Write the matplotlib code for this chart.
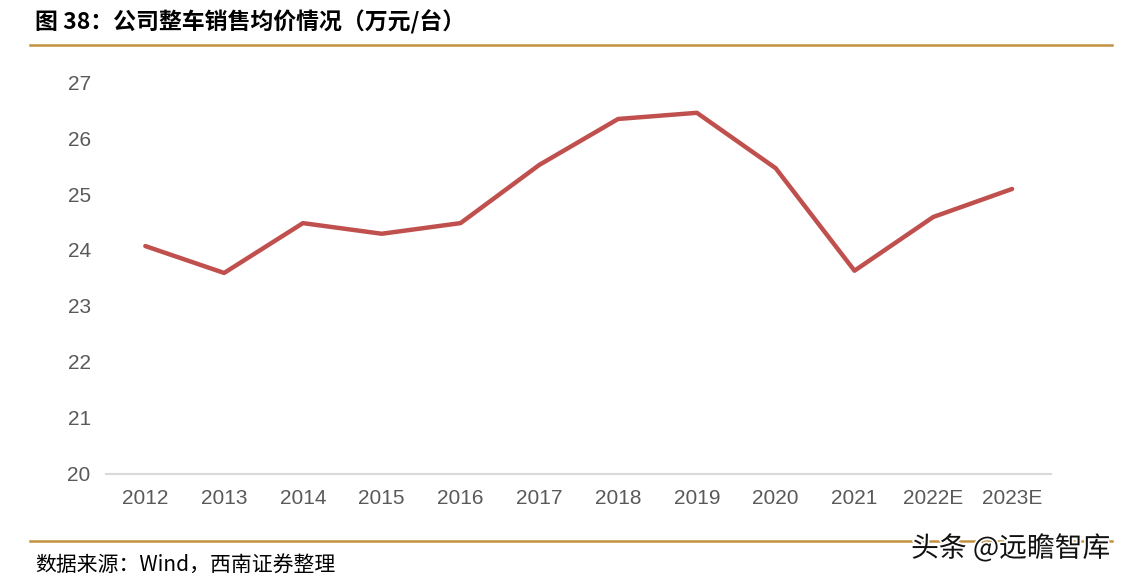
import matplotlib
matplotlib.use('Agg')
import matplotlib.pyplot as plt
import matplotlib.patheffects as pe
from matplotlib.lines import Line2D

plt.rcParams['font.family'] = ['Liberation Sans', 'Noto Sans CJK SC', 'DejaVu Sans']

years = ['2012', '2013', '2014', '2015', '2016', '2017', '2018', '2019', '2020', '2021', '2022E', '2023E']
avg_price = [24.07, 23.59, 24.48, 24.29, 24.48, 25.52, 26.34, 26.45, 25.46, 23.63, 24.59, 25.09]
y_ticks = [20, 21, 22, 23, 24, 25, 26, 27]

title_text = '图 38：公司整车销售均价情况（万元/台）'
source_text = '数据来源：Wind，西南证券整理'
mark_text = '头条 @远瞻智库'

gold = '#C3913F'
gray = '#595959'


def run():
    fig = plt.figure(figsize=(11.27, 5.8), dpi=100)
    ax = fig.add_axes([0.094, 0.1828, 0.839, 0.6758])

    x = list(range(len(years)))
    ax.plot(x, avg_price, color='#C0504D', linewidth=3.2, solid_capstyle='round')

    ax.set_xlim(-0.5, len(years) - 0.5)
    ax.set_ylim(20, 27)
    ax.set_yticks(y_ticks)
    ax.set_xticks(x)
    ax.set_xticklabels(years)
    ax.tick_params(axis='both', length=0, labelsize=15, colors=gray)
    ax.tick_params(axis='y', pad=11)
    ax.tick_params(axis='x', pad=11)
    for s in ['top', 'right', 'left']:
        ax.spines[s].set_visible(False)
    ax.spines['bottom'].set_color('#D9D9D9')
    ax.spines['bottom'].set_linewidth(1.5)

    fig.text(0.031, 0.962, title_text, fontsize=16.5, fontweight='bold',
             family=['Noto Sans CJK SC', 'Liberation Sans'], va='center', ha='left')
    fig.add_artist(Line2D([0.027, 0.987], [0.922, 0.922], color=gold, linewidth=1.8))
    fig.add_artist(Line2D([0.027, 0.987], [0.067, 0.067], color=gold, linewidth=1.8))

    fig.text(0.031, 0.026, source_text, fontsize=15, style='italic',
             family=['Noto Sans CJK SC', 'Liberation Sans'], va='center', ha='left')
    fig.text(0.985, 0.054, mark_text, fontsize=20, color='#111111',
             family=['Noto Sans CJK SC', 'DejaVu Sans'], va='center', ha='right',
             path_effects=[pe.withStroke(linewidth=2.5, foreground='white')])

    fig.savefig('out.png', dpi=100)
    plt.close(fig)


if __name__ == '__main__':
    run()
